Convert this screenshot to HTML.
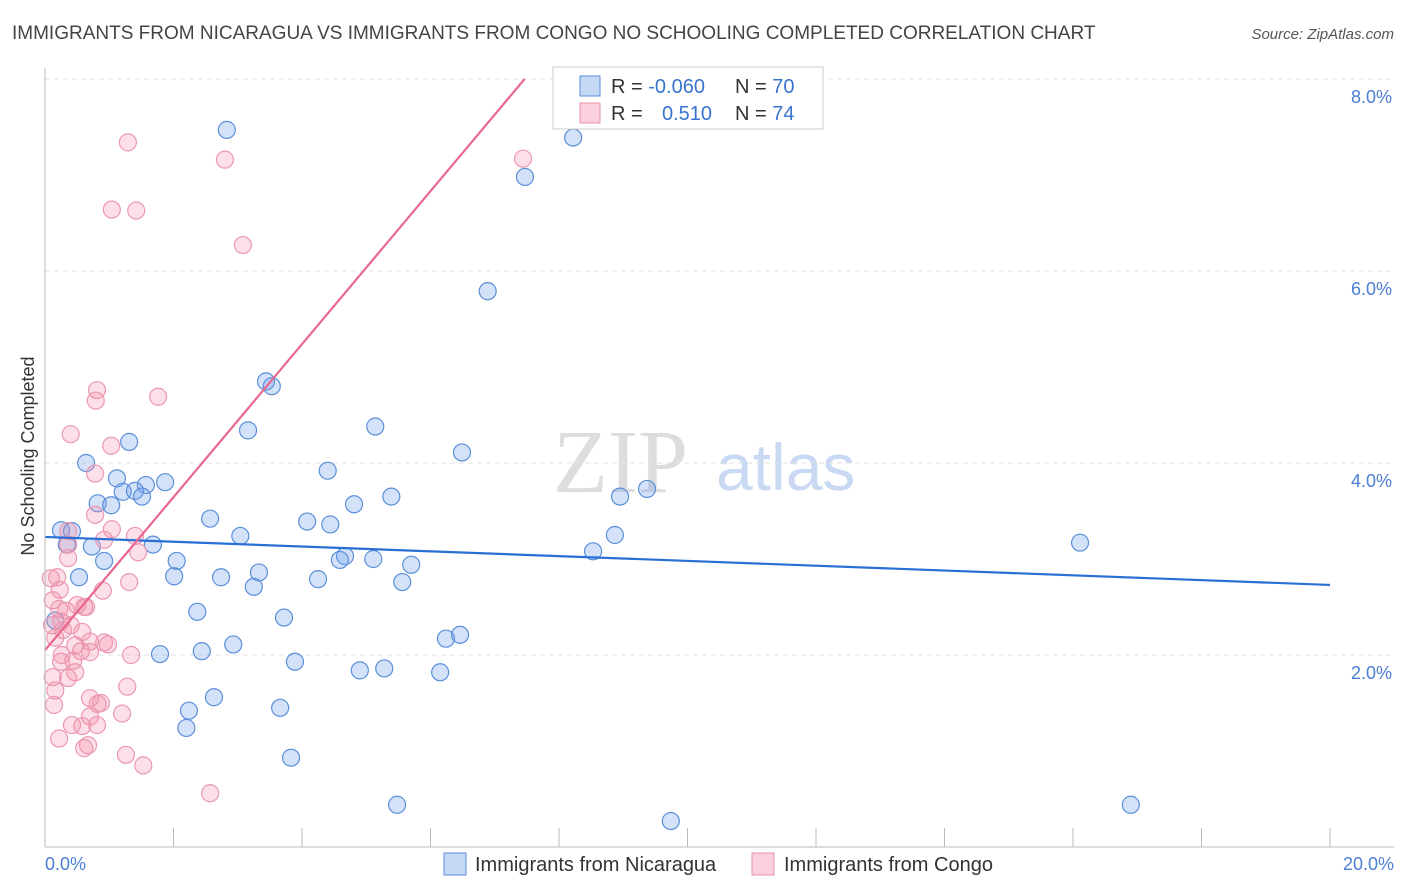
<!DOCTYPE html>
<html><head><meta charset="utf-8"><style>
body{margin:0;background:#fff;font-family:"Liberation Sans",sans-serif}
#c{position:relative;width:1406px;height:892px;overflow:hidden}
</style></head><body>
<div id="c">
<svg id="s" width="1406" height="892" xmlns="http://www.w3.org/2000/svg">
<text x="12" y="39" font-size="19" fill="#444">IMMIGRANTS FROM NICARAGUA VS IMMIGRANTS FROM CONGO NO SCHOOLING COMPLETED CORRELATION CHART</text>
<text x="1394" y="39" font-size="15" fill="#555" font-style="italic" text-anchor="end">Source: ZipAtlas.com</text>
<text transform="translate(34,456) rotate(-90)" font-size="18" fill="#333" text-anchor="middle">No Schooling Completed</text>
<g><text x="553" y="492" font-size="90" fill="#ddd" font-family="Liberation Serif,serif">ZIP</text><text x="716" y="490" font-size="66" fill="#c9d9f3">atlas</text></g>
<g id="grid"></g><g id="pts"></g><g id="lines"></g>
<line x1="45" y1="68" x2="45" y2="847" stroke="#bbb"/>
<line x1="45" y1="847" x2="1394" y2="847" stroke="#bbb"/>
<text x="45" y="870" font-size="18" fill="#4a7fd4">0.0%</text>
<text x="1394" y="870" font-size="18" fill="#4a7fd4" text-anchor="end">20.0%</text>
<g>
<rect x="553" y="67" width="270" height="62" fill="#fff" stroke="#ccc"/>
<rect x="580" y="76" width="20" height="20" fill="#c5d9f5" stroke="#5b8fd9"/>
<rect x="580" y="103" width="20" height="20" fill="#fbd0dc" stroke="#e891ab"/>
<text x="611" y="93" font-size="20" fill="#333">R = <tspan fill="#3a74d0">-0.060</tspan></text>
<text x="735" y="93" font-size="20" fill="#333">N = <tspan fill="#3a74d0">70</tspan></text>
<text x="611" y="120" font-size="20" fill="#333">R = <tspan fill="#3a74d0" x="662">0.510</tspan></text>
<text x="735" y="120" font-size="20" fill="#333">N = <tspan fill="#3a74d0">74</tspan></text>
</g>
<g><rect x="444" y="853" width="22" height="22" fill="#c5d9f5" stroke="#5b8fd9"/><text x="475" y="871" font-size="20" fill="#333">Immigrants from Nicaragua</text></g>
<g><rect x="752" y="853" width="22" height="22" fill="#fbd0dc" stroke="#e891ab"/><text x="784" y="871" font-size="20" fill="#333">Immigrants from Congo</text></g>
</svg></div>
<script>
const yTicks=[2,4,6,8];
const yTickLabels=["2.0%","4.0%","6.0%","8.0%"];
const xTicks=[2,4,6,8,10,12,14,16,18,20];
const nicX=[2.83,8.22,7.47,6.89,3.44,3.53,3.16,5.14,1.31,6.49,0.64,4.40,1.12,1.87,1.57,1.21,1.40,1.51,0.82,1.03,5.39,4.81,8.95,9.37,2.57,4.08,4.44,0.25,0.42,3.04,8.87,16.11,1.68,0.73,0.34,8.53,4.67,4.59,5.11,2.05,0.92,5.70,3.33,2.01,2.74,4.25,0.53,5.56,3.25,2.37,3.72,0.16,6.46,6.24,2.93,2.44,1.79,3.89,5.28,4.90,6.15,2.63,2.24,3.66,2.20,3.83,5.48,16.90,9.74];
const nicY=[7.47,7.39,6.98,5.79,4.85,4.80,4.34,4.38,4.22,4.11,4.00,3.92,3.84,3.80,3.77,3.70,3.71,3.65,3.58,3.56,3.65,3.57,3.65,3.73,3.42,3.39,3.36,3.30,3.29,3.24,3.25,3.17,3.15,3.13,3.15,3.08,3.03,2.99,3.00,2.98,2.98,2.94,2.86,2.82,2.81,2.79,2.81,2.76,2.71,2.45,2.39,2.36,2.21,2.17,2.11,2.04,2.01,1.93,1.86,1.84,1.82,1.56,1.42,1.45,1.24,0.93,0.44,0.44,0.27];
const conX=[1.29,2.80,7.44,1.04,1.42,3.08,0.81,0.79,1.76,0.40,1.03,0.78,0.78,1.04,0.36,1.40,0.92,1.45,0.36,0.36,0.09,0.19,1.31,0.90,0.23,0.12,0.61,0.22,0.33,0.50,0.64,0.25,0.11,0.40,0.58,0.28,0.16,0.70,0.47,0.92,0.98,0.56,0.26,0.70,1.34,0.44,0.25,0.47,0.12,1.28,0.16,0.36,0.14,0.70,0.82,0.87,0.70,1.20,0.42,0.58,0.81,0.22,0.67,0.61,1.26,1.53,2.57];
const conY=[7.34,7.16,7.17,6.64,6.63,6.27,4.76,4.65,4.69,4.30,4.18,3.89,3.46,3.31,3.29,3.24,3.20,3.07,3.01,3.15,2.80,2.81,2.76,2.67,2.68,2.57,2.50,2.48,2.46,2.52,2.50,2.35,2.31,2.31,2.24,2.26,2.18,2.14,2.10,2.13,2.11,2.04,2.00,2.03,2.00,1.94,1.93,1.82,1.77,1.67,1.63,1.76,1.48,1.55,1.49,1.50,1.36,1.39,1.27,1.26,1.27,1.13,1.06,1.03,0.96,0.85,0.56];
const nicTrend=[3.23,2.73];
const conTrend=[2.05,0.797];
const X=v=>45+v*64.25, Y=v=>847-v*96;
const NS="http://www.w3.org/2000/svg";
function mk(t,a,p){const e=document.createElementNS(NS,t);for(const k in a)e.setAttribute(k,a[k]);p.appendChild(e);return e;}
const g=document.getElementById('grid');
yTicks.forEach((v,i)=>{
 const l=mk('line',{x1:45,x2:1394,y1:Y(v),y2:Y(v),stroke:'#e2e2e2','stroke-dasharray':'5,4'},g);
 
 
 const t=mk('text',{x:1392,y:Y(v)+24,'font-size':18,fill:'#4a7fd4','text-anchor':'end'},g);
 t.textContent=yTickLabels[i];
 
 
});
xTicks.forEach(v=>{
 const l=mk('line',{x1:X(v),x2:X(v),y1:828,y2:847,stroke:'#bbb'},g);
 
 
});
const p=document.getElementById('pts');
nicX.forEach((x,i)=>{
 const c=mk('circle',{cx:X(x),cy:Y(nicY[i]),r:8.5,fill:'rgba(110,160,235,0.3)',stroke:'#5b8fd9','stroke-width':1.2},p);
 
 
});
conX.forEach((x,i)=>{
 const c=mk('circle',{cx:X(x),cy:Y(conY[i]),r:8.5,fill:'rgba(245,140,170,0.28)',stroke:'#eb98b2','stroke-width':1.2},p);
 
 
});
const L=document.getElementById('lines');
const b=mk('line',{x1:X(0),y1:Y(nicTrend[0]),x2:X(20),y2:Y(nicTrend[1]),stroke:'#2a6fd6','stroke-width':2.2},L);


const x8=(8-conTrend[0])/conTrend[1];
const r=mk('line',{x1:X(0),y1:Y(conTrend[0]),x2:X(x8),y2:Y(8),stroke:'#e8688f','stroke-width':2.2},L);


</script>
</body></html>
